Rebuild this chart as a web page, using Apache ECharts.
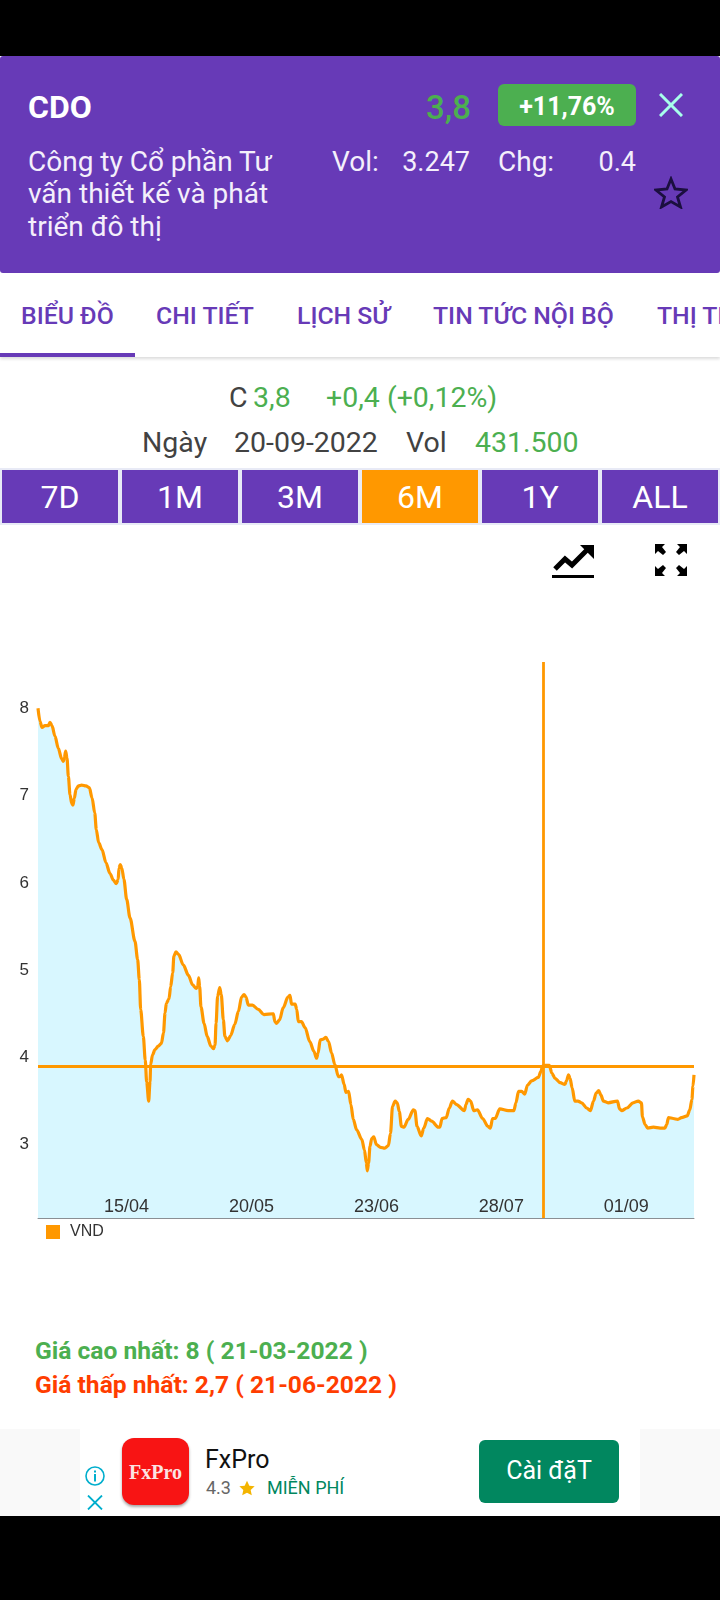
<!DOCTYPE html>
<html lang="vi"><head><meta charset="utf-8">
<script src="https://cdn.jsdelivr.net/npm/echarts@6/dist/echarts.min.js"></script>
<style>
html,body{margin:0;padding:0;background:#fff}
#page{position:relative;width:720px;height:1600px;overflow:hidden;background:#fff;font-family:Roboto,sans-serif}
.t{position:absolute;white-space:nowrap;line-height:1;transform:translateY(-50%)}
.b{position:absolute}
#chart{position:absolute;left:0;top:640px;width:720px;height:620px}
.btn{position:absolute;top:470px;height:53px;width:116px;background:#673AB7;color:#fff;font-size:32px;line-height:55px;text-align:center}
.tab{color:#673AB7;font-size:24.800px;font-weight:500;top:316px}
.top{color:#f4effb;font-size:28px}
</style></head><body>
<div id="page">
<div class="b" style="left:0;top:0;width:720px;height:56px;background:#000"></div>
<div class="b" style="left:0;top:56px;width:720px;height:217px;background:#673AB7;border-radius:3px"></div>
<div class="t" style="left:28px;top:107px;font-size:32px;font-weight:700;color:#fff">CDO</div>
<div class="t" style="right:249px;top:107px;font-size:33px;font-weight:500;color:#4CAF50">3,8</div>
<div class="b" style="left:498px;top:84px;width:138px;height:42px;background:#4CAF50;border-radius:6px"></div>
<div class="t" style="left:498px;width:138px;text-align:center;top:106px;font-size:25px;font-weight:700;color:#fff">+11,76%</div>
<svg class="b" style="left:659px;top:93px" width="24" height="24" viewBox="0 0 24 24"><path d="M1 1L23 23M23 1L1 23" stroke="#A7FFEB" stroke-width="3" fill="none"/></svg>
<svg class="b" style="left:654px;top:176px" width="34" height="33" viewBox="0 0 34 33"><path d="M17 3L21 13L32 14L23.500 21L26.500 31L17 25.500L7.500 31L10.500 21L2 14L13 13Z" stroke="#1B0F3F" stroke-width="2.800" fill="none"/></svg>
<div class="t top" style="left:28px;top:162px">Công ty Cổ phần Tư</div>
<div class="t top" style="left:28px;top:194px">vấn thiết kế và phát</div>
<div class="t top" style="left:28px;top:227px">triển đô thị</div>
<div class="t top" style="left:332px;top:162px">Vol:</div>
<div class="t top" style="right:250px;top:162px;font-size:27px">3.247</div>
<div class="t top" style="left:498px;top:162px">Chg:</div>
<div class="t top" style="right:84px;top:162px;font-size:27px">0.4</div>

<div class="b" style="left:0;top:273px;width:720px;height:84px;background:#fff;box-shadow:0 2px 3px rgba(0,0,0,.14)"></div>
<div class="t tab" style="left:21px">BIỂU ĐỒ</div>
<div class="t tab" style="left:156px">CHI TIẾT</div>
<div class="t tab" style="left:297px">LỊCH SỬ</div>
<div class="t tab" style="left:433px">TIN TỨC NỘI BỘ</div>
<div class="t tab" style="left:657px">THỊ TRƯỜNG</div>
<div class="b" style="left:0;top:353px;width:135px;height:4px;background:#673AB7"></div>

<div class="t" style="left:229px;top:398px;font-size:28.500px;color:#424242">C</div>
<div class="t" style="left:253px;top:398px;font-size:28.500px;color:#4CAF50">3,8</div>
<div class="t" style="left:326px;top:398px;font-size:28.500px;color:#4CAF50">+0,4 (+0,12%)</div>
<div class="t" style="left:142px;top:443px;font-size:28.500px;color:#424242">Ngày</div>
<div class="t" style="left:234px;top:443px;font-size:28.500px;color:#424242">20-09-2022</div>
<div class="t" style="left:406px;top:443px;font-size:28.500px;color:#424242">Vol</div>
<div class="t" style="left:475px;top:443px;font-size:28.500px;color:#4CAF50">431.500</div>

<div class="b" style="left:0;top:468px;width:720px;height:57px;background:#E8EAF6"></div>
<div class="btn" style="left:2px">7D</div>
<div class="btn" style="left:122px">1M</div>
<div class="btn" style="left:242px">3M</div>
<div class="btn" style="left:362px;background:#FF9800">6M</div>
<div class="btn" style="left:482px">1Y</div>
<div class="btn" style="left:602px">ALL</div>

<svg class="b" style="left:552px;top:545px" width="42" height="33" viewBox="0 0 42 33"><path d="M3 24L13 14L20 20L35 5" stroke="#000" stroke-width="5" fill="none"/><path d="M28 0H42V14Z" fill="#000"/><rect x="0" y="30" width="42" height="3" fill="#000"/></svg>
<svg class="b" style="left:655px;top:544px" width="32" height="32" viewBox="0 0 32 32" fill="#000"><path d="M0 0H10L7 3L11 8L8 11L3 7L0 10Z"/><path d="M32 0H22L25 3L21 8L24 11L29 7L32 10Z"/><path d="M0 32H10L7 29L11 24L8 21L3 25L0 22Z"/><path d="M32 32H22L25 29L21 24L24 21L29 25L32 22Z"/></svg>

<div id="chart"></div>

<div class="t" style="left:35px;top:1351px;font-size:24.600px;font-weight:700;color:#4CAF50">Giá cao nhất: 8 ( 21-03-2022 )</div>
<div class="t" style="left:35px;top:1385px;font-size:24.600px;font-weight:700;color:#FF3D00">Giá thấp nhất: 2,7 ( 21-06-2022 )</div>

<div class="b" style="left:0;top:1429px;width:720px;height:87px;background:#F9F9F9"></div>
<div class="b" style="left:80px;top:1429px;width:560px;height:87px;background:#fff"></div>
<div class="b" style="left:0;top:1516px;width:720px;height:84px;background:#000"></div>
<div class="b" style="left:122px;top:1438px;width:67px;height:67px;background:#F81414;border-radius:12px;box-shadow:0 2px 3px rgba(0,0,0,.35)"></div>
<div class="t" style="left:122px;width:67px;text-align:center;top:1472px;font-family:'Liberation Serif',serif;font-weight:700;font-size:20px;color:#fbe3e3">FxPro</div>
<div class="t" style="left:205px;top:1459px;font-size:25px;color:#111">FxPro</div>
<div class="t" style="left:206px;top:1488px;font-size:18px;color:#666">4.3</div>
<svg class="b" style="left:239px;top:1480px" width="16" height="16" viewBox="0 0 24 24"><path d="M12 1L15.500 8.500L23.500 9.500L17.500 15L19.200 23L12 19L4.800 23L6.500 15L0.500 9.500L8.500 8.500Z" fill="#F4B400"/></svg>
<div class="t" style="left:267px;top:1488px;font-size:18px;color:#01875F">MIỄN PHÍ</div>
<div class="b" style="left:479px;top:1440px;width:140px;height:63px;background:#01875F;border-radius:6px"></div>
<div class="t" style="left:479px;width:140px;text-align:center;top:1470px;font-size:25px;color:#fff">Cài đặT</div>
<svg class="b" style="left:85px;top:1466px" width="20" height="20" viewBox="0 0 20 20"><circle cx="10" cy="10" r="9" stroke="#00AECD" stroke-width="1.600" fill="none"/><rect x="9" y="8" width="2" height="7.500" fill="#00AECD"/><rect x="9" y="4.500" width="2" height="2" fill="#00AECD"/></svg>
<svg class="b" style="left:87px;top:1495px" width="16" height="15" viewBox="0 0 16 15"><path d="M1 0.500L15 14.500M15 0.500L1 14.500" stroke="#00AECD" stroke-width="1.800" fill="none"/></svg>
</div>
<script>
// Positions along the trading-day count (0 = 21/03/2022, 126 = 20/09/2022)
var days = [0,0.38,0.77,1.34,1.98,2.3,2.69,3.26,3.9,4.55,4.87,5.06,5.31,5.57,5.83,6.15,6.47,6.72,6.98,7.3,7.75,8.39,9.2,9.86,10.4,10.9,11.2,11.65,12.3,13.06,13.8,14.5,15.04,15.4,15.56,15.8,16.1,16.5,17.03,
17.67,18.63,19.14,19.46,19.72,20.23,20.6,20.87,21.26,21.51,21.64,22,22.47,23.1,23.7,24.1,24.4,24.65,25.16,25.48,25.87,26.1,26.5,27,27.9,28.9,29.7,30.35,30.67,30.86,31.05,31.3,31.9,32.5,33.2,33.7,34,34.2,34.5,34.9,35.2,35.6,35.9,36.4,37,37.8,38.5,
39.1,39.57,39.95,40.4,41.2,42.3,43.4,45.2,45.5,45.8,46.4,47.1,48,48.4,48.7,49.4,49.7,50,50.6,51.3,52.2,53,53.5,53.8,54.2,54.8,55.3,55.8,56.4,57,57.7,58,
58.3,58.8,59.15,59.66,60.1,60.56,61.2,62.2,62.7,63.06,63.25,63.5,63.76,64.1,64.5,65,65.8,66.6,67.3,67.7,68.1,68.6,69,69.4,69.8,70.3,71.1,72.1,72.4,72.8,73.6,74.1,74.8,75.6,76.9,77.2,77.6,78.4,79,79.6,80.4,81.9,82.2,82.6,83.1,83.7,84.4,85.4,86.4,86.9,87.3,87.8,88.7,90.3,
91.4,91.8,92.3,92.9,93.5,94,94.8,96.1,96.6,96.9,97.4,98.2,98.7,99.3,100.3,101.2,101.5,101.9,102.2,102.6,103.1,103.7,104.4,105.4,106.1,106.7,107.2,107.7,108.1,108.6,109.5,111.3,111.7,112.1,113.1,114.3,115.3,115.9,116.1,116.6,117.1,118.2,119.5,120.4,120.75,121.1,122,122.9,123.6,124.7,125.2,125.6,125.8,126];
var prices = [8,7.85,7.78,7.8,7.8,7.84,7.8,7.68,7.54,7.42,7.39,7.43,7.51,7.43,7.22,7.01,6.91,6.89,6.97,7.07,7.11,7.12,7.11,7.09,6.97,6.8,6.61,6.46,6.38,6.23,6.11,6.03,5.99,6.04,6.17,6.21,6.17,6.04,5.81,
5.6,5.33,5.12,4.89,4.55,4.24,3.97,3.72,3.5,3.72,3.92,4.03,4.09,4.13,4.16,4.28,4.51,4.62,4.67,4.81,4.97,5.16,5.21,5.18,5.06,4.94,4.83,4.79,4.81,4.91,4.81,4.58,4.39,4.24,4.13,4.1,4.14,4.39,4.7,4.8,4.72,4.43,4.24,4.19,4.25,4.38,4.53,
4.69,4.72,4.69,4.6,4.6,4.55,4.49,4.5,4.41,4.39,4.43,4.57,4.69,4.71,4.61,4.61,4.55,4.41,4.41,4.34,4.18,4.07,3.99,4.05,4.2,4.21,4.23,4.18,4.05,3.92,3.78,3.78,
3.8,3.69,3.6,3.61,3.46,3.29,3.17,3.06,2.94,2.79,2.7,2.79,2.98,3.07,3.09,3,2.97,2.96,2.99,3.13,3.44,3.5,3.48,3.38,3.21,3.2,3.29,3.4,3.39,3.21,3.1,3.19,3.3,3.27,3.2,3.2,3.3,3.31,3.42,3.5,3.46,3.39,3.46,3.52,3.5,3.39,3.4,3.3,3.21,3.19,3.3,3.3,3.41,3.39,
3.39,3.48,3.61,3.61,3.58,3.68,3.73,3.77,3.84,3.9,3.91,3.91,3.82,3.76,3.71,3.69,3.73,3.8,3.76,3.65,3.5,3.5,3.48,3.42,3.39,3.5,3.59,3.62,3.57,3.5,3.48,3.5,3.41,3.39,3.42,3.48,3.5,3.48,3.32,3.23,3.19,3.2,3.19,3.19,3.23,3.31,3.3,3.29,3.31,3.33,3.4,3.52,3.67,3.8];
var xTickDays = [17,41,65,89,113];
var xTickLabels = ['15/04','20/05','23/06','28/07','01/09'];
var yTicks = [3,4,5,6,7,8];
var crossDay = 97;
var crossPrice = 3.9;

var chart = echarts.init(document.getElementById('chart'), null, {renderer:'canvas'});
chart.setOption({
  animation:false,
  backgroundColor:'transparent',
  legend:{show:true,left:46,top:584,padding:0,itemWidth:14,itemHeight:14,itemGap:8,icon:'rect',
    textStyle:{color:'#333',fontSize:16,fontFamily:'Liberation Sans',padding:[2,0,0,5]},data:['VND']},
  grid:{left:38,right:26,top:22,height:556,containLabel:false},
  xAxis:{type:'value',z:10,min:0,max:126,splitLine:{show:false},
    axisLine:{show:true,lineStyle:{color:'#8a8f94',width:1}},axisTick:{show:false},
    axisLabel:{inside:true,customValues:xTickDays,margin:2,color:'#333',fontSize:18,fontFamily:'Liberation Sans',
      formatter:function(v){return xTickLabels[xTickDays.indexOf(v)]||'';}}},
  yAxis:{type:'value',min:2.16,max:8.53,splitLine:{show:false},axisLine:{show:false},axisTick:{show:false},
    axisLabel:{customValues:yTicks,margin:9,color:'#333',fontSize:17,fontFamily:'Liberation Sans',lineHeight:20,padding:[3,0,0,0]}},
  series:[{name:'VND',type:'line',data:days.map(function(d,i){return [d,prices[i]];}),
    smooth:0.3,smoothMonotone:'x',showSymbol:false,symbol:'none',
    itemStyle:{color:'#FF9800'},lineStyle:{color:'#FF9800',width:3.2},
    areaStyle:{color:'#D8F7FF',opacity:1,origin:'start'},
    markLine:{silent:true,symbol:'none',label:{show:false},animation:false,
      lineStyle:{color:'#FF9800',type:'solid',width:2.8},
      data:[{yAxis:crossPrice},{xAxis:crossDay}]}}]
});
</script>
</body></html>
